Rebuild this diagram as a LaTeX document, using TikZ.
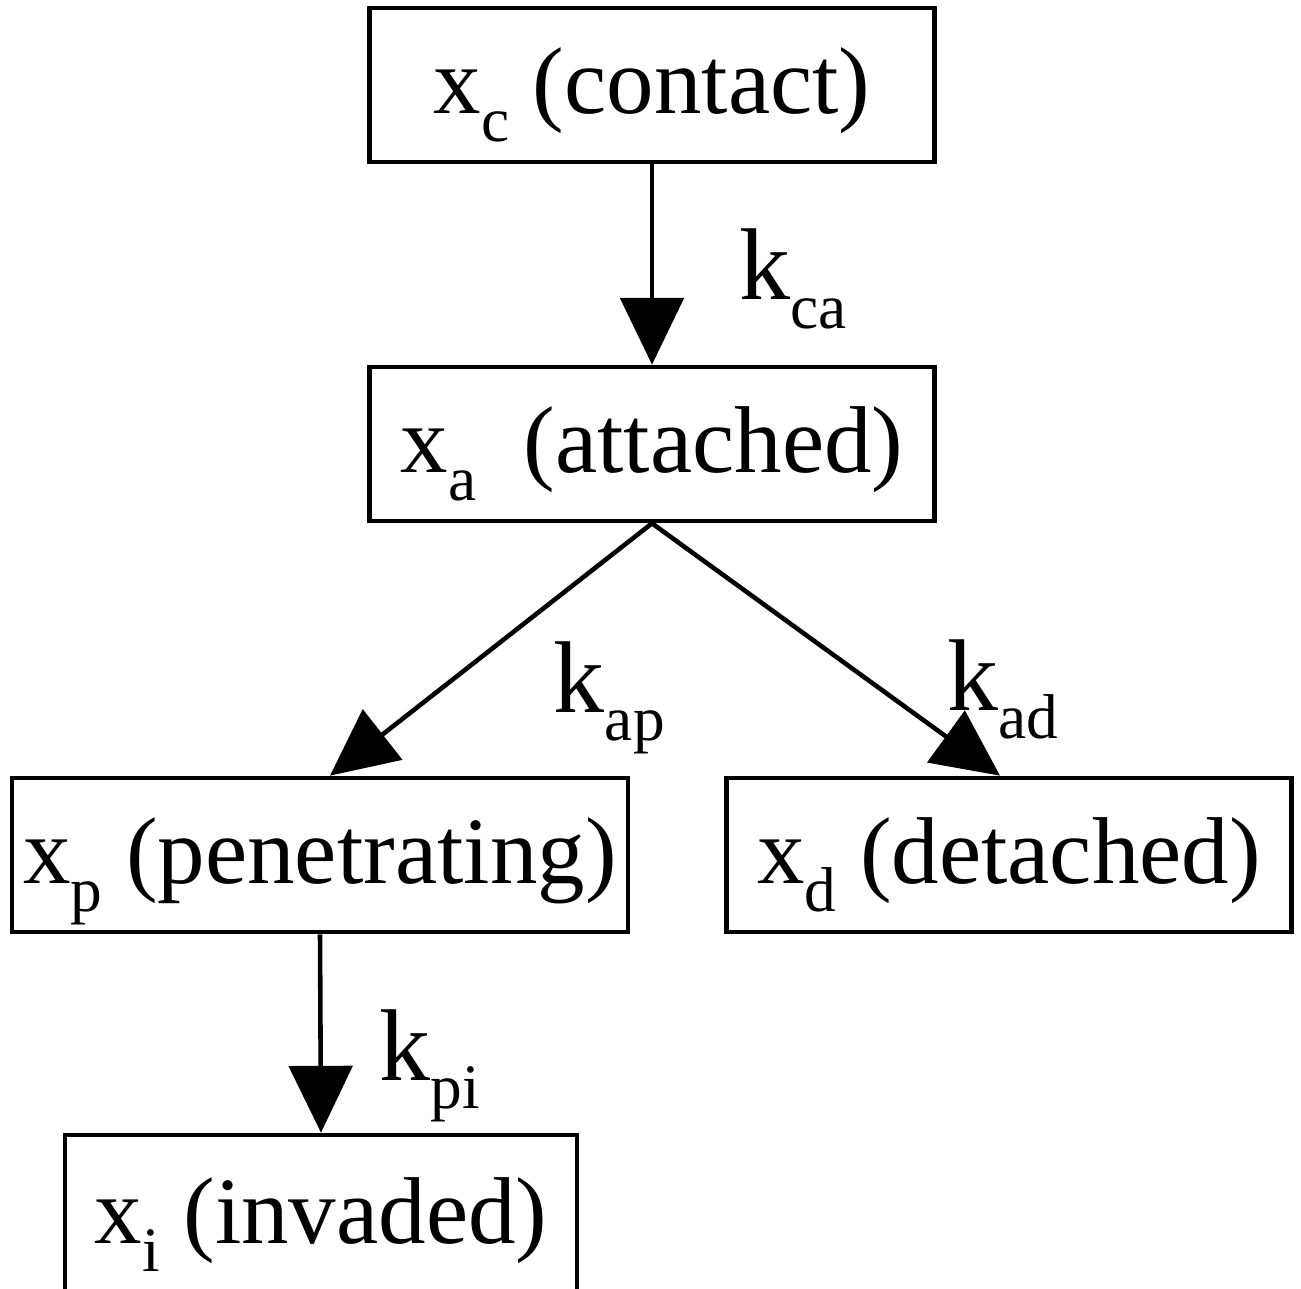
\documentclass[tikz,border=0pt]{standalone}
\usepackage{fontspec}
\setmainfont{Liberation Serif}
\usetikzlibrary{arrows.meta,positioning}

\newcommand{\lsub}[1]{\raisebox{-8pt}[0pt][0pt]{\fontsize{18}{18}\selectfont #1}}

\begin{document}
\begin{tikzpicture}[x=0.01cm,y=-0.01cm,
        state/.style={draw,line width=1.3pt,inner sep=1pt,minimum height=1.54cm,
            text height=0.7cm,text depth=0.14cm,font=\fontsize{27}{30}\selectfont},
        rate/.style={inner sep=0pt,anchor=west,font=\fontsize{29}{30}\selectfont},
        flow/.style={line width=1.3pt,-{Triangle[length=19pt,width=18pt]}}]
    \useasboundingbox (0,0) rectangle (1301,1289);

    \node [state,minimum width=5.65cm] (contact) at (652,85) {x\lsub{c} (contact)};
    \node [state,minimum width=5.65cm] (attached) at (652,444) {x\lsub{a}\ \ (attached)};
    \node [state,minimum width=6.16cm] (penetrating) at (320,855) {x\lsub{p} (penetrating)};
    \node [state,minimum width=5.65cm] (detached) at (1009,855) {x\lsub{d} (detached)};
    \node [state,minimum width=5.12cm,minimum height=1.6cm] (invaded) at (321,1215) {x\lsub{i} (invaded)};

    \draw [flow] (contact.south) -- node [rate,pos=0.5,xshift=0.85cm] {k\lsub{ca}} (attached.north);
    \draw [flow] (attached.south) -- node [rate,pos=0.61,xshift=0.96cm] {k\lsub{ap}} ([xshift=0.1cm]penetrating.north);
    \draw [flow] (attached.south) -- node [rate,pos=0.6,xshift=0.84cm] {k\lsub{ad}} ([xshift=-0.09cm]detached.north);
    \draw [flow] (penetrating.south) -- node [rate,pos=0.56,xshift=0.57cm] {k\lsub{pi}} (invaded.north);
\end{tikzpicture}
\end{document}
